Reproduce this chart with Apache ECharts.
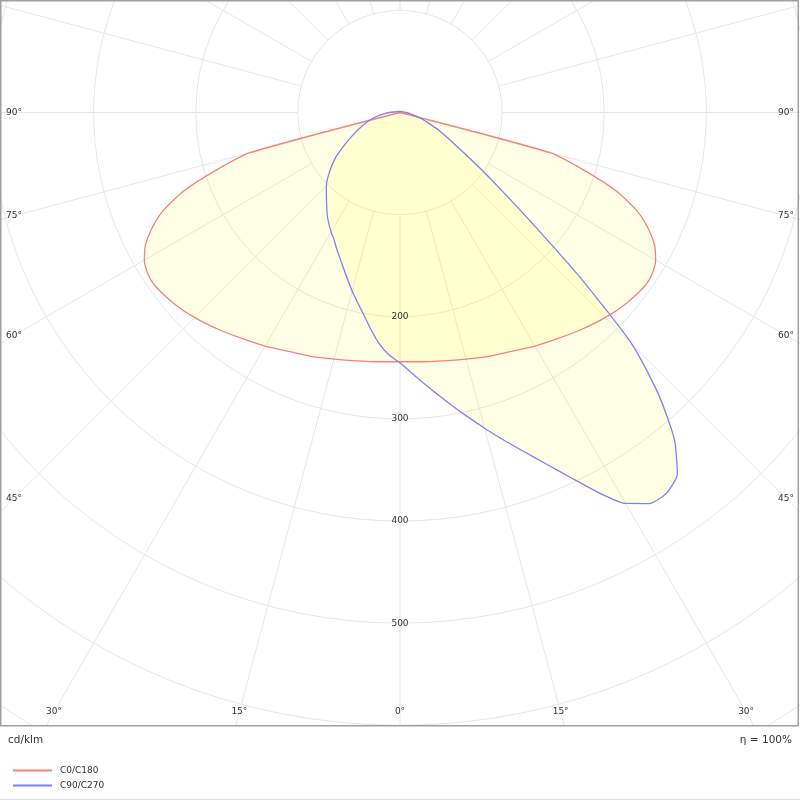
<!DOCTYPE html>
<html>
<head>
<meta charset="utf-8">
<script src="https://cdn.jsdelivr.net/npm/echarts@6/dist/echarts.min.js"></script>
<style>
  html, body { margin: 0; padding: 0; background: #fff; }
  #chart { width: 800px; height: 800px; }
</style>
</head>
<body>
<div id="chart"></div>
<script>
// gamma angles (deg from nadir) and intensities (cd/klm)
const gammaC0 = [0, 5, 10, 15, 20, 25, 30, 35, 40, 45, 50, 55, 57.5, 60, 62.5, 65, 67.5, 70, 72.5, 75, 80, 85, 90];
const valuesC0 = [244, 245, 247, 250, 254, 258, 264, 270, 277, 284, 290, 294, 293, 289, 281, 268, 251, 226, 190, 152, 0, 0, 0];

const gammaC90 = [0, 2.5, 5, 7.5, 10, 12.5, 15, 17.5, 20, 22.5, 25, 27.5, 30, 32.5, 35, 37.5, 40, 42.5, 45, 47.5, 50, 52.5, 55, 57.5, 60, 65, 70, 75, 80, 85, 90, 180];
const valuesC90 = [245, 255, 266, 278, 291, 305, 320, 336, 353, 372, 394, 419, 442, 454, 455, 446, 418, 375, 322, 240, 170, 126, 97, 76, 61, 43, 29, 20, 13, 9, 6, 1];

const gammaC270 = [0, 2.5, 5, 7.5, 10, 12.5, 15, 17.5, 20, 22.5, 25, 27.5, 30, 35, 40, 45, 50, 55, 60, 65, 70, 75, 80, 85, 90, 180];
const valuesC270 = [245, 238, 228, 215, 202, 191, 181, 171, 162, 154, 147, 140, 135, 124, 112, 102, 90, 77, 62, 50, 40, 32, 24, 16, 10, 1];

const ringLabels = [200, 300, 400, 500];
const angleLabels = [0, 15, 30, 45, 60, 75, 90];

const FONT = 'DejaVu Sans';
const gridColor = '#e6e6e6';
const rMax = 750;
const rPx = 766;

// left half is mirrored (360 - gamma), walked from top down to nadir, then right half back up
function buildCurve(gLeft, vLeft, gRight, vRight) {
    const pts = [];
    for (let i = gLeft.length - 1; i >= 0; i--) {
        pts.push([vLeft[i], (360 - gLeft[i]) % 360]);
    }
    for (let i = 1; i < gRight.length; i++) {
        pts.push([vRight[i], gRight[i]]);
    }
    return pts;
}

const dataC0 = buildCurve(gammaC0, valuesC0, gammaC0, valuesC0);
const dataC90 = buildCurve(gammaC270, valuesC270, gammaC90, valuesC90);

const chart = echarts.init(document.getElementById('chart'));

chart.setOption({
    animation: false,
    backgroundColor: '#fff',
    textStyle: { fontFamily: FONT },
    polar: [
        { center: [400, 112.5], radius: [rPx * 100 / rMax, rPx] },
        { center: [400, 112.5], radius: [0, rPx] }
    ],
    radiusAxis: [{
        polarIndex: 0,
        type: 'value',
        min: 100,
        max: rMax,
        interval: 100,
        axisLine: { show: false },
        axisTick: { show: false },
        axisLabel: { show: false },
        splitLine: { show: true, lineStyle: { color: gridColor, width: 1 } }
    }, {
        polarIndex: 1,
        type: 'value',
        min: 0,
        max: rMax,
        show: false
    }],
    angleAxis: [{
        polarIndex: 0,
        type: 'value',
        min: 0,
        max: 360,
        interval: 15,
        startAngle: 270,
        clockwise: false,
        axisLine: { show: false },
        axisTick: { show: false },
        axisLabel: { show: false },
        splitLine: { show: true, lineStyle: { color: gridColor, width: 1 } }
    }, {
        polarIndex: 1,
        type: 'value',
        min: 0,
        max: 360,
        startAngle: 270,
        clockwise: false,
        show: false
    }],
    legend: {
        orient: 'vertical',
        left: 8,
        top: 761,
        itemWidth: 39,
        itemHeight: 2,
        itemGap: 6,
        icon: 'rect',
        z: 60,
        textStyle: { fontSize: 9, color: '#333', fontFamily: FONT, padding: [0, 0, 0, 3] },
        data: ['C0/C180', 'C90/C270']
    },
    series: [{
        name: 'C0/C180',
        type: 'line',
        coordinateSystem: 'polar',
        polarIndex: 1,
        symbol: 'none',
        smooth: 0.2,
        data: dataC0,
        itemStyle: { color: '#f58080' },
        lineStyle: { color: '#f58080', width: 1.3 },
        areaStyle: { color: 'rgba(255,255,0,0.14)' }
    }, {
        name: 'C90/C270',
        type: 'line',
        coordinateSystem: 'polar',
        polarIndex: 1,
        symbol: 'none',
        smooth: 0.2,
        data: dataC90,
        itemStyle: { color: '#8080f0' },
        lineStyle: { color: '#8080f0', width: 1.3 },
        areaStyle: { color: 'rgba(255,255,0,0.14)' }
    }]
});

// labels placed with the polar scale
const c = chart.convertToPixel({ seriesIndex: 0 }, [0, 0]);
const graphics = [];

ringLabels.forEach(v => {
    const p = chart.convertToPixel({ seriesIndex: 0 }, [v, 0]);
    graphics.push({
        type: 'text', z: 10,
        style: { x: p[0], y: p[1], text: String(v), align: 'center', verticalAlign: 'middle', fontSize: 9, fontFamily: FONT, fill: '#333' }
    });
});

const inset = { left: 14, right: 786, bottom: 712 };
angleLabels.forEach(g => {
    const sides = g === 0 ? [g] : [g, 360 - g];
    sides.forEach(a => {
        const p = chart.convertToPixel({ seriesIndex: 0 }, [100, a]);
        const dx = p[0] - c[0], dy = p[1] - c[1];
        let t = Infinity;
        if (dx < -1e-6) t = Math.min(t, (inset.left - c[0]) / dx);
        if (dx > 1e-6) t = Math.min(t, (inset.right - c[0]) / dx);
        if (dy > 1e-6) t = Math.min(t, (inset.bottom - c[1]) / dy);
        graphics.push({
            type: 'text', z: 10,
            style: { x: c[0] + t * dx, y: c[1] + t * dy, text: g + '°', align: 'center', verticalAlign: 'middle', fontSize: 9, fontFamily: FONT, fill: '#333' }
        });
    });
});

graphics.push(
    { type: 'rect', z: 50, shape: { x: 0, y: 726, width: 800, height: 74 }, style: { fill: '#fff' } },
    { type: 'rect', z: 51, shape: { x: 0.75, y: 0.75, width: 797.5, height: 725 }, style: { fill: null, stroke: '#a0a0a0', lineWidth: 1.5 } },
    { type: 'line', z: 51, shape: { x1: 0, y1: 799.5, x2: 800, y2: 799.5 }, style: { stroke: '#e0e0e0', lineWidth: 1 } },
    { type: 'text', z: 60, style: { x: 8, y: 740, text: 'cd/klm', align: 'left', verticalAlign: 'middle', fontSize: 10.5, fontFamily: FONT, fill: '#333' } },
    { type: 'text', z: 60, style: { x: 792, y: 740, text: 'η = 100%', align: 'right', verticalAlign: 'middle', fontSize: 10.5, fontFamily: FONT, fill: '#333' } }
);

chart.setOption({ graphic: { elements: graphics } });
</script>
</body>
</html>
